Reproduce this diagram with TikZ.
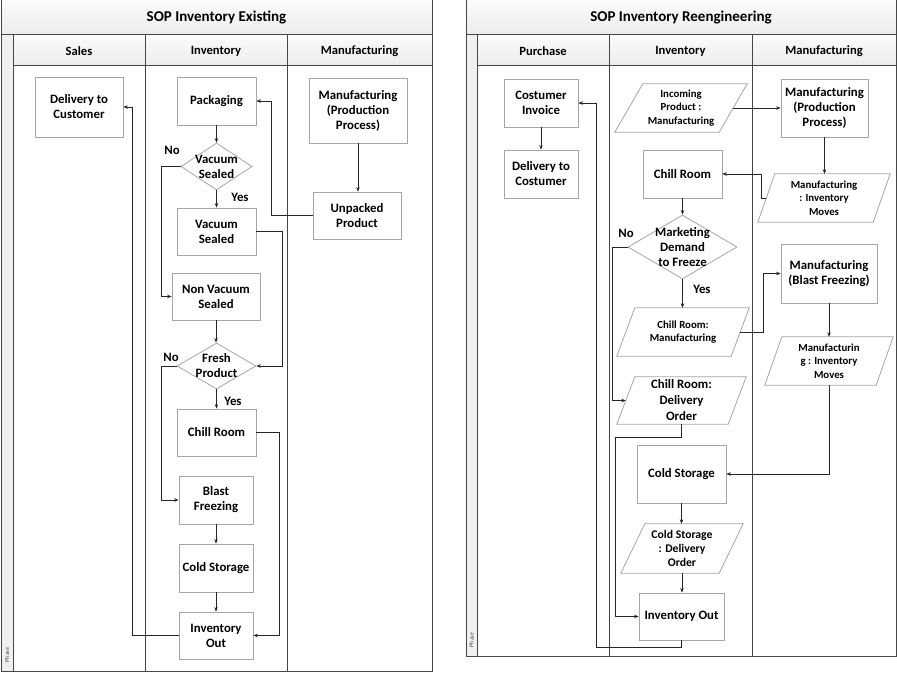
\documentclass[tikz,border=0pt]{standalone}
\usepackage{fontspec}
\setmainfont{Carlito}
\usetikzlibrary{shapes.geometric,arrows.meta,calc}

\newcommand\mystd{\fontsize{12.8}{15}\selectfont\bfseries}
\newcommand\mystdb{\fontsize{12.8}{16}\selectfont\bfseries}
\newcommand\mymed{\fontsize{11.7}{14.3}\selectfont\bfseries}
\newcommand\mysmall{\fontsize{10.8}{13.3}\selectfont\bfseries}
\newcommand\myhead{\fontsize{12.6}{15}\selectfont\bfseries}
\newcommand\mytitle{\fontsize{15}{18}\selectfont\bfseries}

\tikzset{
  frameline/.style={draw=gray!55!black, line width=1pt},
  band/.style={frameline, top color=gray!3, bottom color=gray!15},
  nodeline/.style={draw=gray!70, line width=0.8pt, fill=white},
  bx/.style 2 args={nodeline, rectangle, align=center, inner sep=1pt, font=\mystd,
                    minimum width=#1pt, minimum height=#2pt},
  dm/.style 2 args={nodeline, diamond, inner sep=0pt, minimum width=#1pt, minimum height=#2pt},
  pbx/.style 2 args={rectangle, inner sep=0pt, minimum width=#1pt, minimum height=#2pt},
  txt/.style={align=center, inner sep=0pt, font=\mystd},
  lbl/.style={inner sep=0pt, font=\mystd},
  arr/.style={draw=black!85, line width=0.6pt, -{Stealth[length=4.5pt,width=3.5pt]}},
  phase/.style={rotate=90, inner sep=0pt, font=\fontsize{6}{7}\selectfont, text=gray!60!black}
}

% parallelogram: name, cx, cy, w, h, slant, font, text
\newcommand\para[8]{%
  \node[pbx={#4}{#5}] (#1) at (#2,#3) {};
  \draw[nodeline] ($(#1.north west)+(#6,0)$) -- (#1.north east) -- ($(#1.south east)+(-#6,0)$) -- (#1.south west) -- cycle;
  \coordinate (#1w) at ($(#1.west)+(#6/2,0)$);
  \coordinate (#1e) at ($(#1.east)+(-#6/2,0)$);
  \node[txt, font=#7] (#1t) at (#1) {#8};
}

\begin{document}
\begin{tikzpicture}[x=1pt, y=-1pt]
\useasboundingbox (0,0) rectangle (897,674);
\fill[white] (0,0) rectangle (897,674);

% ================= LEFT: SOP Inventory Existing =================
\draw[band] (1,0) rectangle (432,35);
\node[font=\mytitle] (t1) at (216.5,17.5) {SOP Inventory Existing};
\draw[frameline, fill=gray!12] (1,35) rectangle (13,671);
\draw[band] (13,35) rectangle (145,66);
\draw[band] (145,35) rectangle (287,66);
\draw[band] (287,35) rectangle (432,66);
\node[font=\myhead] (h1) at (79,51) {Sales};
\node[font=\myhead] (h2) at (216,51) {Inventory};
\node[font=\myhead] (h3) at (359.5,51) {Manufacturing};
\draw[frameline] (145,66) -- (145,671);
\draw[frameline] (287,66) -- (287,671);
\draw[frameline] (1,0) rectangle (432,671);
\node[phase] (ph1) at (7,655) {Phase};

\node[bx={88}{60}] (del) at (79,107) {Delivery to\\Customer};
\node[bx={79}{48}] (pack) at (216.5,101) {Packaging};
\node[bx={98}{65}] (mpp) at (358,110.5) {Manufacturing\\(Production\\Process)};
\node[dm={71}{47}] (vsd) at (216.5,166.5) {};
\node[txt] (vsdt) at (216.5,166.5) {Vacuum\\Sealed};
\node[bx={88}{47}] (unp) at (357,215.5) {Unpacked\\Product};
\node[bx={79}{47}] (vsb) at (216.5,231.5) {Vacuum\\Sealed};
\node[bx={88}{47}] (nvs) at (216,296.5) {Non Vacuum\\Sealed};
\node[dm={79}{46}] (fpd) at (216.5,366) {};
\node[txt] (fpdt) at (216.5,366) {Fresh\\Product};
\node[bx={79}{47}] (chl) at (216.5,432.5) {Chill Room};
\node[bx={74}{48}] (bf) at (216,500) {Blast\\Freezing};
\node[bx={74}{48}] (cs) at (216,568) {Cold Storage};
\node[bx={74}{47}] (io) at (216,635.5) {Inventory\\Out};

\draw[arr] (pack.south) -- (pack.south |- vsd.north);
\draw[arr] (vsd.south) -- (vsd.south |- vsb.north);
\node[lbl] (y1) at (240,197) {Yes};
\draw[arr] (vsd.west) -- ++(-19,0) |- (nvs.west);
\node[lbl] (n1) at (172,150) {No};
\draw[arr] (vsb.east) -- ++(26,0) |- (fpd.east);
\draw[arr] (nvs.south) -- (nvs.south |- fpd.north);
\draw[arr] (fpd.south) -- (fpd.south |- chl.north);
\node[lbl] (y2) at (233,401) {Yes};
\draw[arr] (fpd.west) -- ++(-15,0) |- (bf.west);
\node[lbl] (n2) at (171,357) {No};
\draw[arr] (chl.east) -- ++(23,0) |- (io.east);
\draw[arr] (bf.south) -- (bf.south |- cs.north);
\draw[arr] (cs.south) -- (cs.south |- io.north);
\draw[arr] (io.west) -- ++(-46,0) |- (del.east);
\draw[arr] (mpp.south) -- (mpp.south |- unp.north);
\draw[arr] (unp.west) -- ++(-41,0) |- (pack.east);

% ================= RIGHT: SOP Inventory Reengineering =================
\draw[band] (466,0) rectangle (896,35);
\node[font=\mytitle] (t2) at (681,17.5) {SOP Inventory Reengineering};
\draw[frameline, fill=gray!12] (466,35) rectangle (477,656);
\draw[band] (477,35) rectangle (609,66);
\draw[band] (609,35) rectangle (752,66);
\draw[band] (752,35) rectangle (896,66);
\node[font=\myhead] (h4) at (543,51) {Purchase};
\node[font=\myhead] (h5) at (680.5,51) {Inventory};
\node[font=\myhead] (h6) at (824,51) {Manufacturing};
\draw[frameline] (609,66) -- (609,656);
\draw[frameline] (752,66) -- (752,656);
\draw[frameline] (466,0) rectangle (896,656);
\node[phase] (ph2) at (471.5,640) {Phase};

\node[bx={74}{48}] (ci) at (541,103) {Costumer\\Invoice};
\node[bx={74}{48}] (dc) at (541,174) {Delivery to\\Costumer};
\para{ipm}{681}{108}{132}{48}{28}{\mysmall}{Incoming\\Product :\\Manufacturing}
\node[bx={87}{58}] (mpp2) at (824.5,108) {Manufacturing\\(Production\\Process)};
\node[bx={79}{48}] (cr) at (682.5,174) {Chill Room};
\para{mim}{824}{198}{132}{48}{17}{\mysmall}{Manufacturing\\: Inventory\\Moves}
\node[dm={109}{64}] (mdf) at (682.5,247) {};
\node[txt] (mdft) at (682.5,247) {Marketing\\Demand\\to Freeze};
\node[bx={96}{59}] (mbf) at (829,273.5) {Manufacturing\\(Blast Freezing)};
\para{crm}{683}{332}{132}{48}{18}{\mysmall}{Chill Room:\\Manufacturing}
\para{mimb}{829}{361}{128}{48}{17}{\mysmall}{Manufacturin\\g : Inventory\\Moves}
\para{crd}{681.5}{400.5}{129}{47}{18}{\mystdb}{Chill Room:\\Delivery\\Order}
\node[bx={89}{58}] (csb) at (681.5,474) {Cold Storage};
\para{csd}{682}{548.5}{122}{49}{24}{\mymed}{Cold Storage\\: Delivery\\Order}
\node[bx={85}{47}] (iob) at (681.5,616.5) {Inventory Out};

\draw[arr] (ci.south) -- (ci.south |- dc.north);
\draw[arr] (ipme) -- (ipme -| mpp2.west);
\draw[arr] (mpp2.south) -- (mpp2.south |- mim.north);
\draw[arr] (mimw) -- ++(-5,0) |- (cr.east);
\draw[arr] (cr.south) -- (cr.south |- mdf.north);
\draw[arr] (mdf.south) -- (mdf.south |- crm.north);
\node[lbl] (y3) at (702,289) {Yes};
\draw[arr] (mdf.west) -- ++(-15,0) |- (crdw);
\node[lbl] (n3) at (626,233) {No};
\draw[arr] (crme) -- ++(23,0) |- (mbf.west);
\draw[arr] (mbf.south) -- (mbf.south |- mimb.north);
\draw[arr] (mimb.south) |- (csb.east);
\draw[arr] (crd.south) -- ++(0,13) -| ([xshift=-23pt]iob.west) -- (iob.west);
\draw[arr] (csb.south) -- (csb.south |- csd.north);
\draw[arr] (csd.south) -- (csd.south |- iob.north);
\draw[arr] (iob.south) -- ++(0,7) -| ([xshift=18pt]ci.east) -- (ci.east);
\end{tikzpicture}
\end{document}
